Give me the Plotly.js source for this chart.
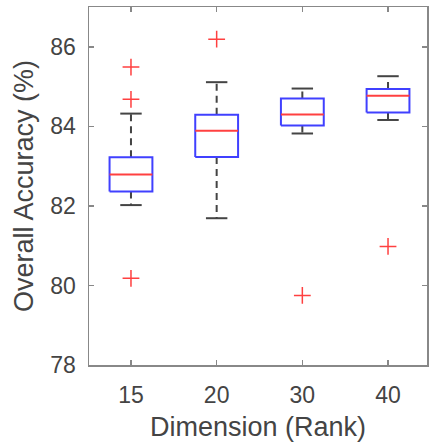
<!DOCTYPE html>
<html>
<head>
<meta charset="utf-8">
<script src="https://cdn.plot.ly/plotly-3.0.1.min.js"></script>
<style>html,body{margin:0;padding:0;background:#fff;}#chart{width:430px;height:448px;}</style>
</head>
<body>
<div id="chart"></div>
<script>
// Data
const categories = ['15', '20', '30', '40'];
const lowerWhisker = [82.02, 81.69, 83.82, 84.16];
const q1 = [82.36, 83.23, 84.02, 84.35];
const medians = [82.79, 83.89, 84.30, 84.77];
const q3 = [83.22, 84.29, 84.70, 84.94];
const upperWhisker = [84.32, 85.11, 84.95, 85.26];
const outliers = [[85.49, 84.68, 80.18], [86.19], [79.75], [80.98]];

const halfBox = 0.25;
const halfCap = 0.125;

const boxX = [], boxY = [], medX = [], medY = [], whX = [], whY = [], capX = [], capY = [], outX = [], outY = [];
categories.forEach((c, i) => {
  const x = i + 1;
  boxX.push(x - halfBox, x + halfBox, x + halfBox, x - halfBox, x - halfBox, null);
  boxY.push(q1[i], q1[i], q3[i], q3[i], q1[i], null);
  medX.push(x - halfBox, x + halfBox, null);
  medY.push(medians[i], medians[i], null);
  whX.push(x, x, null, x, x, null);
  whY.push(q3[i], upperWhisker[i], null, q1[i], lowerWhisker[i], null);
  capX.push(x - halfCap, x + halfCap, null, x - halfCap, x + halfCap, null);
  capY.push(upperWhisker[i], upperWhisker[i], null, lowerWhisker[i], lowerWhisker[i], null);
  outliers[i].forEach(v => { outX.push(x); outY.push(v); });
});

const traces = [
  {x: whX, y: whY, mode: 'lines', line: {color: '#444444', width: 2, dash: '7px,5px'}, hoverinfo: 'skip'},
  {x: capX, y: capY, mode: 'lines', line: {color: '#444444', width: 2}, hoverinfo: 'skip'},
  {x: boxX, y: boxY, mode: 'lines', line: {color: '#4040ff', width: 2}, hoverinfo: 'skip'},
  {x: medX, y: medY, mode: 'lines', line: {color: '#ff4040', width: 2}, hoverinfo: 'skip'},
  {x: outX, y: outY, mode: 'markers', marker: {symbol: 'cross-thin', size: 12, line: {color: '#ff4040', width: 1.5}}, hoverinfo: 'skip'}
];

const txt = '#444444';
const axisCommon = {
  showline: true, linecolor: '#888888', linewidth: 1.5,
  mirror: 'ticks', ticks: 'inside', ticklen: 5, tickcolor: '#888888', tickwidth: 1.5,
  showgrid: false, zeroline: false,
  tickfont: {size: 23, color: txt}
};

const layout = {
  width: 430, height: 448,
  margin: {l: 89, r: 3, t: 7, b: 83},
  showlegend: false,
  paper_bgcolor: '#fff', plot_bgcolor: '#fff',
  font: {family: '"Liberation Sans", Arial, sans-serif', color: txt},
  xaxis: Object.assign({}, axisCommon, {
    range: [0.51, 4.455],
    tickvals: [1, 2, 3, 4], ticktext: categories,
    ticklabelstandoff: 9,
    title: {text: 'Dimension (Rank)', font: {size: 27, color: txt}, standoff: 10}
  }),
  yaxis: Object.assign({}, axisCommon, {
    range: [78, 87], tick0: 78, dtick: 2,
    ticklabelstandoff: 7,
    title: {text: 'Overall Accuracy (%)', font: {size: 27, color: txt}, standoff: 9}
  })
};

Plotly.newPlot('chart', traces, layout, {staticPlot: true, displayModeBar: false});
</script>
</body>
</html>
